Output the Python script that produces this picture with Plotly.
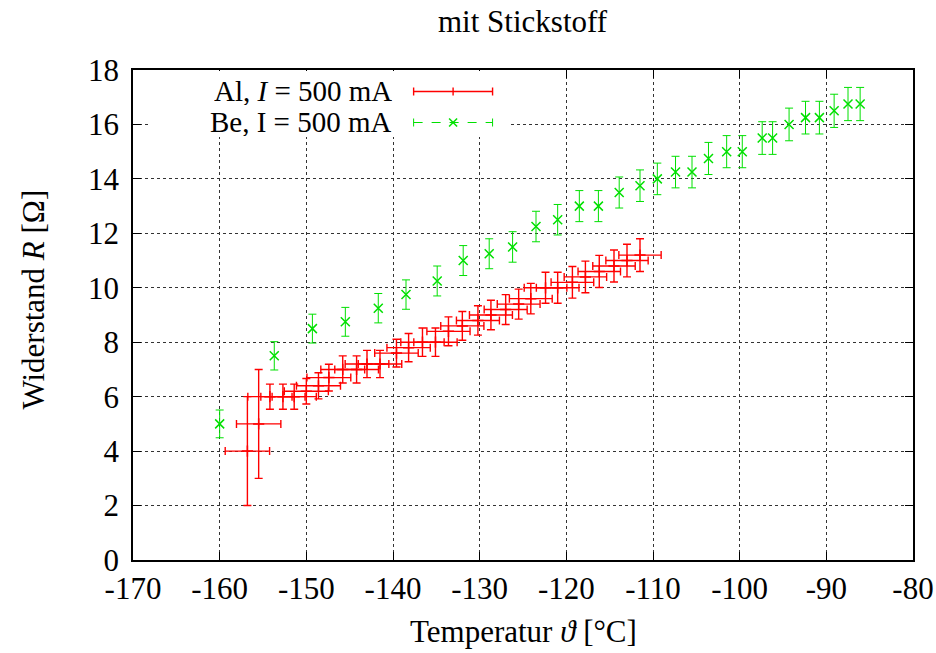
import plotly.graph_objects as go

# ---------------- data ----------------
al_temp = [-156.8, -155.5, -154.2, -152.7, -151.4, -150.0, -148.6, -147.4, -145.8, -144.2,
           -143.0, -141.5, -139.6, -138.2, -136.6, -135.1, -133.6, -132.0, -130.2, -128.7,
           -127.0, -125.5, -124.1, -122.4, -121.0, -119.3, -117.8, -116.2, -114.5, -113.0,
           -111.5]
al_r = [4.0, 5.0, 6.0, 6.0, 6.0, 6.2, 6.4, 6.7, 7.0, 7.0,
        7.2, 7.2, 7.6, 7.8, 8.0, 8.0, 8.4, 8.6, 8.8, 9.0,
        9.2, 9.4, 9.6, 10.0, 10.0, 10.2, 10.4, 10.6, 10.8, 11.0,
        11.2]
al_temp_err = [2.56, 2.56, 2.55, 2.55, 2.55, 2.54, 2.54, 2.53, 2.53, 2.52,
               2.52, 2.51, 2.51, 2.50, 2.50, 2.50, 2.49, 2.49, 2.48, 2.48,
               2.48, 2.47, 2.47, 2.46, 2.46, 2.46, 2.45, 2.45, 2.45, 2.44,
               2.44]
al_r_err = [2.0, 2.0, 0.46, 0.46, 0.46, 0.47, 0.48, 0.49, 0.50, 0.50,
            0.50, 0.50, 0.51, 0.52, 0.52, 0.52, 0.53, 0.53, 0.54, 0.54,
            0.55, 0.55, 0.56, 0.57, 0.57, 0.58, 0.58, 0.59, 0.59, 0.60,
            0.60]

be_temp = [-160.0, -153.7, -149.3, -145.5, -141.7, -138.5, -134.9, -131.9, -128.9, -126.2,
           -123.5, -121.0, -118.5, -116.3, -113.9, -111.5, -109.5, -107.4, -105.5, -103.6,
           -101.5, -99.7, -97.4, -96.2, -94.3, -92.4, -90.8, -89.1, -87.5, -86.1]
be_r = [5.0, 7.5, 8.5, 8.75, 9.25, 9.75, 10.25, 11.0, 11.25, 11.5,
        12.25, 12.5, 13.0, 13.0, 13.5, 13.75, 14.0, 14.25, 14.25, 14.75,
        15.0, 15.0, 15.5, 15.5, 16.0, 16.25, 16.25, 16.5, 16.75, 16.75]
be_r_err = [0.51, 0.52, 0.53, 0.53, 0.54, 0.54, 0.55, 0.55, 0.55, 0.56,
            0.56, 0.56, 0.57, 0.57, 0.57, 0.58, 0.58, 0.58, 0.58, 0.59,
            0.59, 0.59, 0.60, 0.60, 0.60, 0.60, 0.60, 0.61, 0.61, 0.61]

x_ticks = [-170, -160, -150, -140, -130, -120, -110, -100, -90, -80]
x_tick_labels = ["-170", "-160", "-150", "-140", "-130", "-120", "-110", "-100", "-90", "-80"]
y_ticks = [0, 2, 4, 6, 8, 10, 12, 14, 16, 18]
y_tick_labels = ["0", "2", "4", "6", "8", "10", "12", "14", "16", "18"]

title_text = "mit Stickstoff"
x_title = "Temperatur <i>ϑ</i> [°C]"
y_title = "Widerstand <i>R</i> [Ω]"
al_label = "Al, <i>I</i> = 500 mA"
be_label = "Be, I = 500 mA"

# ---------------- layout geometry ----------------
W, H = 936, 653
L, R, T, B = 132.5, 23, 70, 93
PW, PH = W - L - R, H - T - B


def px(xp):
    return (xp - L) / PW


def py(yp):
    return (H - B - yp) / PH


FONT = "Liberation Serif"
RED = "#ff0000"
GREEN = "#00e000"

fig = go.Figure()
fig.add_trace(go.Scatter(
    x=al_temp, y=al_r, mode="markers", name=al_label, showlegend=False,
    marker=dict(symbol="cross-thin", size=8, color=RED, line=dict(color=RED, width=1.5)),
    error_x=dict(type="data", array=al_temp_err, color=RED, thickness=1.4, width=4),
    error_y=dict(type="data", array=al_r_err, color=RED, thickness=1.4, width=4),
))
fig.add_trace(go.Scatter(
    x=be_temp, y=be_r, mode="markers", name=be_label, showlegend=False,
    marker=dict(symbol="x-thin", size=9, color=GREEN, line=dict(color=GREEN, width=1.5)),
    error_y=dict(type="data", array=be_r_err, color=GREEN, thickness=1, width=4),
))

axis_common = dict(
    ticks="inside", ticklen=8, tickwidth=1, tickcolor="black",
    showline=True, linecolor="black", linewidth=1.5, mirror="ticks",
    showgrid=True, gridcolor="#333333", griddash="dot", gridwidth=1,
    zeroline=False, tickfont=dict(family=FONT, size=31, color="black"),
)
fig.update_xaxes(range=[-170, -80], tickmode="array", tickvals=x_ticks,
                 ticktext=x_tick_labels, **axis_common)
fig.update_yaxes(range=[0, 18], tickmode="array", tickvals=y_ticks,
                 ticktext=y_tick_labels, ticklabelstandoff=6, **axis_common)

# legend (gnuplot style: text right-aligned, sample to the right)
leg_y_al, leg_y_be = 91.5, 122.5
s_x0, s_x1 = 413.3, 492.3
s_xm = (s_x0 + s_x1) / 2
cap = 4
shapes = [
    dict(type="rect", xref="paper", yref="paper", x0=px(148), x1=px(510), y0=py(137), y1=py(71),
         fillcolor="white", line=dict(width=0), layer="above"),
    # Al sample
    dict(type="line", xref="paper", yref="paper", x0=px(s_x0), x1=px(s_x1), y0=py(leg_y_al), y1=py(leg_y_al),
         line=dict(color=RED, width=1.4), layer="above"),
    dict(type="line", xref="paper", yref="paper", x0=px(s_x0), x1=px(s_x0), y0=py(leg_y_al - cap), y1=py(leg_y_al + cap),
         line=dict(color=RED, width=1.4), layer="above"),
    dict(type="line", xref="paper", yref="paper", x0=px(s_x1), x1=px(s_x1), y0=py(leg_y_al - cap), y1=py(leg_y_al + cap),
         line=dict(color=RED, width=1.4), layer="above"),
    dict(type="line", xref="paper", yref="paper", x0=px(s_xm), x1=px(s_xm), y0=py(leg_y_al - cap), y1=py(leg_y_al + cap),
         line=dict(color=RED, width=1.4), layer="above"),
    # Be sample
    dict(type="line", xref="paper", yref="paper", x0=px(s_x0), x1=px(s_x1), y0=py(leg_y_be), y1=py(leg_y_be),
         line=dict(color=GREEN, width=1, dash="dash"), layer="above"),
    dict(type="line", xref="paper", yref="paper", x0=px(s_x0), x1=px(s_x0), y0=py(leg_y_be - cap), y1=py(leg_y_be + cap),
         line=dict(color=GREEN, width=1), layer="above"),
    dict(type="line", xref="paper", yref="paper", x0=px(s_x1), x1=px(s_x1), y0=py(leg_y_be - cap), y1=py(leg_y_be + cap),
         line=dict(color=GREEN, width=1), layer="above"),
    dict(type="line", xref="paper", yref="paper", x0=px(s_xm - 4), x1=px(s_xm + 4), y0=py(leg_y_be - 4), y1=py(leg_y_be + 4),
         line=dict(color=GREEN, width=1.5), layer="above"),
    dict(type="line", xref="paper", yref="paper", x0=px(s_xm - 4), x1=px(s_xm + 4), y0=py(leg_y_be + 4), y1=py(leg_y_be - 4),
         line=dict(color=GREEN, width=1.5), layer="above"),
]

annotations = [
    dict(text=al_label, xref="paper", yref="paper", x=px(394), y=py(leg_y_al), xanchor="right",
         yanchor="middle", height=28, valign="middle", showarrow=False,
         font=dict(family=FONT, size=29, color="black")),
    dict(text=be_label, xref="paper", yref="paper", x=px(394), y=py(leg_y_be), xanchor="right",
         yanchor="middle", height=28, valign="middle", showarrow=False,
         font=dict(family=FONT, size=29, color="black")),
    dict(text=x_title, xref="paper", yref="paper", x=0.5, y=py(631), xanchor="center",
         yanchor="middle", showarrow=False, font=dict(family=FONT, size=31, color="black")),
    dict(text=y_title, xref="paper", yref="paper", x=px(32), y=py(300), xanchor="center",
         yanchor="middle", textangle=-90, showarrow=False, font=dict(family=FONT, size=31, color="black")),
    dict(text=title_text, xref="paper", yref="paper", x=0.5, y=py(22), xanchor="center",
         yanchor="middle", showarrow=False, font=dict(family=FONT, size=31, color="black")),
]

fig.update_layout(
    width=W, height=H,
    margin=dict(l=L, r=R, t=T, b=B, autoexpand=False),
    paper_bgcolor="white", plot_bgcolor="white",
    shapes=shapes, annotations=annotations, showlegend=False,
)

fig.write_html("out.html")
